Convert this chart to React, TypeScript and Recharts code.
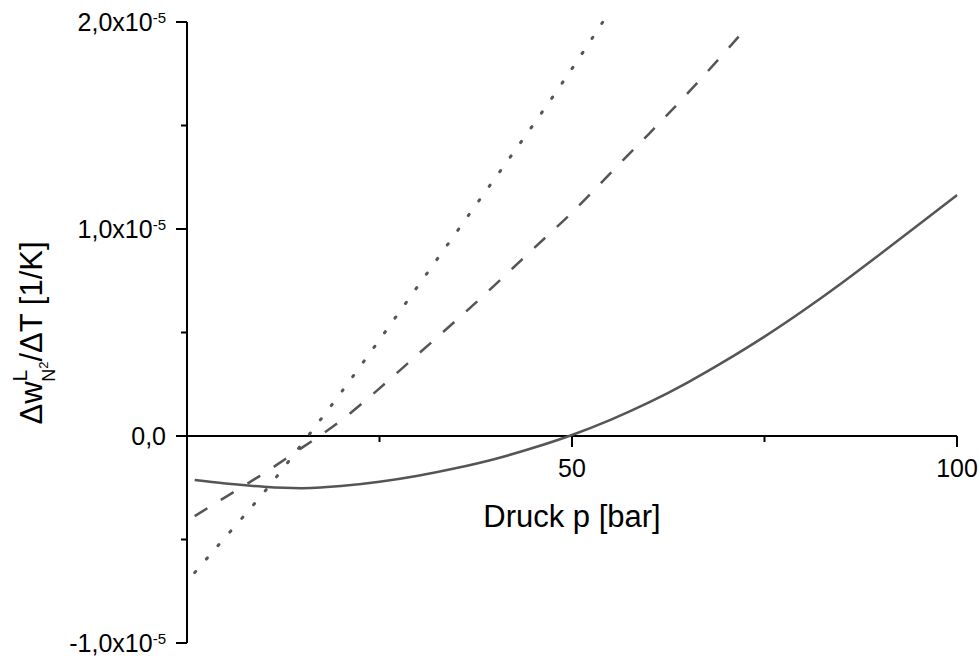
import { LineChart, Line, XAxis, YAxis, ReferenceLine } from 'recharts'

// pressure [bar] and d(w_N2)/dT [1/K] for the three curves
const solidP = [1, 5, 10, 15, 20, 25, 30, 35, 40, 45, 50, 55, 60, 65, 70, 75, 80, 85, 90, 95, 100]
const solidW = [
  -2.13e-6, -2.3e-6, -2.45e-6, -2.52e-6, -2.42e-6, -2.21e-6, -1.92e-6, -1.55e-6, -1.11e-6, -0.57e-6,
  0.05e-6, 0.78e-6, 1.62e-6, 2.58e-6, 3.65e-6, 4.8e-6, 6.05e-6, 7.38e-6, 8.78e-6, 10.2e-6, 11.64e-6,
]

const dashP = [1, 5, 10, 15, 20, 25, 30, 35, 40, 45, 50, 55, 60, 65, 70, 72]
const dashW = [
  -3.87e-6, -2.95e-6, -1.8e-6, -0.55e-6, 0.75e-6, 2.3e-6, 3.95e-6, 5.6e-6, 7.3e-6, 9.05e-6, 10.8e-6,
  12.7e-6, 14.6e-6, 16.55e-6, 18.6e-6, 19.45e-6,
]

const dotP = [1, 5, 10, 15, 20, 25, 30, 35, 40, 45, 50, 54]
const dotW = [
  -6.6e-6, -4.88e-6, -2.72e-6, -0.35e-6, 2.1e-6, 4.65e-6, 7.25e-6, 9.85e-6, 12.45e-6, 15.05e-6, 17.75e-6,
  20.0e-6,
]

const yTicks = [-1e-5, -0.5e-5, 0, 0.5e-5, 1e-5, 1.5e-5, 2e-5]
const xTicks = [25, 50, 75, 100]
const xTickLabels = ['', '50', '', '100']

const FONT = '"Liberation Sans", Arial, sans-serif'
const INK = '#000'
const CURVE = '#555'

const rows = (ps: number[], ws: number[]) => ps.map((p, i) => ({ p, w: ws[i] }))

function YTick({ x, y, payload }: any) {
  const m = payload.value / 1e-5
  const major = Math.abs(m - Math.round(m)) < 1e-9
  const mantissa = m.toFixed(1).replace('.', ',')
  return (
    <g>
      <line x1={x - (major ? 11 : 6)} x2={x} y1={y} y2={y} stroke={INK} strokeWidth={2} />
      {major && (
        <text x={x - 21} y={y} dy={9} textAnchor="end" fontSize={25} fontFamily={FONT} fill={INK}>
          {m === 0 ? (
            mantissa
          ) : (
            <>
              {mantissa}x10
              <tspan dy={-8} fontSize={15}>
                -5
              </tspan>
            </>
          )}
        </text>
      )}
    </g>
  )
}

// x-axis sits on y = 0, so its ticks are drawn as zero-length reference segments
const xTickShape = (label: string) => (props: any) => (
  <g>
    <line
      x1={props.x1}
      x2={props.x1}
      y1={props.y1}
      y2={props.y1 + (label ? 11 : 6)}
      stroke={INK}
      strokeWidth={2}
    />
    {label && (
      <text x={props.x1} y={props.y1 + 41} textAnchor="middle" fontSize={25} fontFamily={FONT} fill={INK}>
        {label}
      </text>
    )}
  </g>
)

function YTitle() {
  const cx = 42
  const cy = 333
  return (
    <text
      x={cx}
      y={cy}
      transform={`rotate(-90, ${cx}, ${cy})`}
      textAnchor="middle"
      fontSize={31}
      fontFamily={FONT}
      fill={INK}
    >
      Δw
      <tspan dy={-15} fontSize={21}>
        L
      </tspan>
      <tspan dx={-12} dy={28} fontSize={18}>
        N
      </tspan>
      <tspan dy={-7} fontSize={13}>
        2
      </tspan>
      <tspan dy={-6}>/ΔT [1/K]</tspan>
    </text>
  )
}

export default function App() {
  return (
    <div style={{ position: 'absolute', left: 0, top: 0, background: '#fff' }}>
      <LineChart width={979} height={659} margin={{ top: 22, right: 22, bottom: 16, left: 0 }}>
        <XAxis dataKey="p" type="number" domain={[0, 100]} hide />
        <YAxis
          type="number"
          domain={[-1e-5, 2e-5]}
          ticks={yTicks}
          width={187}
          axisLine={{ stroke: INK, strokeWidth: 2 }}
          tickLine={false}
          tickSize={0}
          tickMargin={0}
          tick={<YTick />}
          interval={0}
          label={<YTitle />}
        />
        <ReferenceLine
          y={0}
          stroke={INK}
          strokeWidth={2}
          label={{ value: 'Druck p [bar]', position: 'bottom', offset: 69, fontSize: 31, fill: INK, fontFamily: FONT }}
        />
        {xTicks.map((t, i) => (
          <ReferenceLine
            key={t}
            segment={[
              { x: t, y: 0 },
              { x: t, y: 0 },
            ]}
            shape={xTickShape(xTickLabels[i])}
          />
        ))}
        <Line
          data={rows(dotP, dotW)}
          dataKey="w"
          type="natural"
          stroke={CURVE}
          strokeWidth={3}
          strokeDasharray="1.5 16.5"
          strokeLinecap="round"
          dot={false}
          isAnimationActive={false}
        />
        <Line
          data={rows(dashP, dashW)}
          dataKey="w"
          type="natural"
          stroke={CURVE}
          strokeWidth={2.5}
          strokeDasharray="15 16"
          dot={false}
          isAnimationActive={false}
        />
        <Line
          data={rows(solidP, solidW)}
          dataKey="w"
          type="natural"
          stroke={CURVE}
          strokeWidth={2.5}
          dot={false}
          isAnimationActive={false}
        />
      </LineChart>
    </div>
  )
}
